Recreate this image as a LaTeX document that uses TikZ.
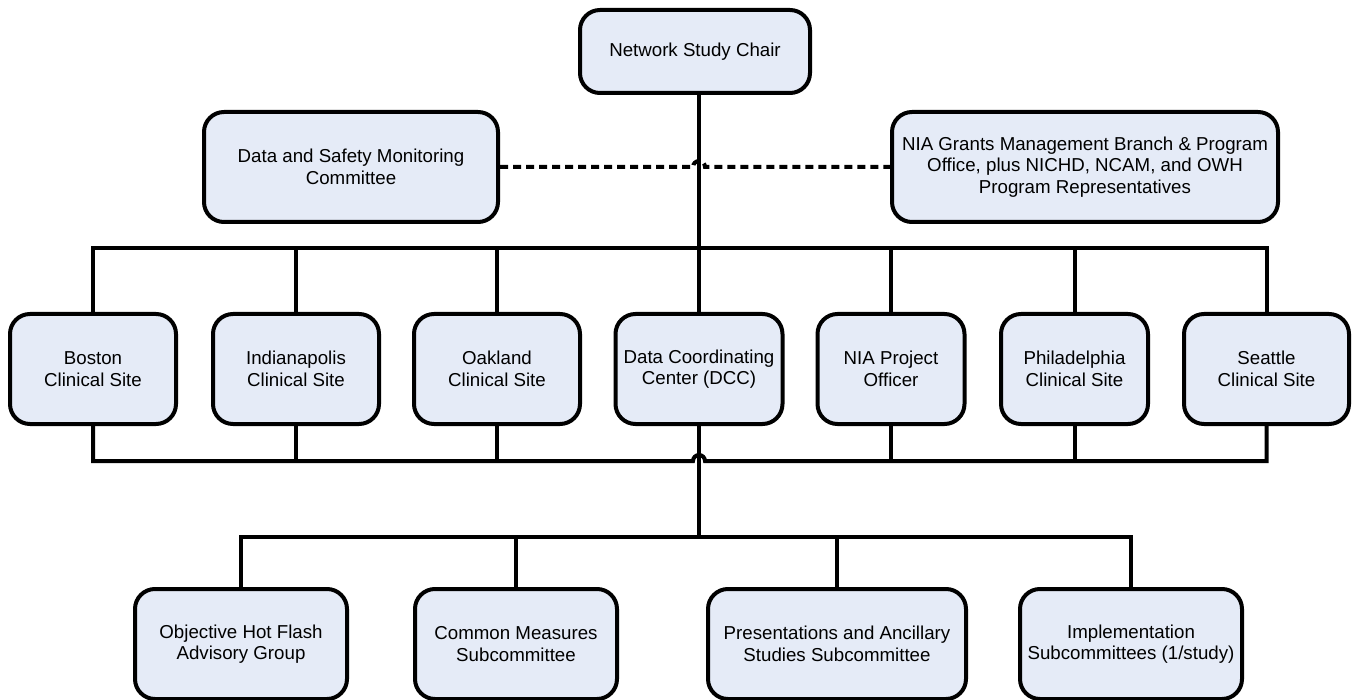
\documentclass[tikz,border=0pt]{standalone}
\usepackage{fontspec}
\setmainfont{Liberation Sans}
\usepackage{tikz}
\usetikzlibrary{calc}

\definecolor{boxfill}{RGB}{229,235,247}
\newcommand{\orgfont}{\fontsize{18.7}{21.5}\selectfont}

\tikzset{
    orgbox/.style={draw, line width=4pt, rounded corners=20pt, fill=boxfill,
        align=center, inner sep=0pt, minimum height=110pt, font=\orgfont},
    link/.style={line width=4pt},
    dashlink/.style={line width=4pt, dash pattern=on 8pt off 5pt}
}

\begin{document}
\begin{tikzpicture}[x=1pt,y=1pt]
        \useasboundingbox (0,0) rectangle (1360,-700);
        % top
        \node[orgbox, minimum width=230pt, minimum height=83pt] (chair) at (695,-51.5) {Network Study Chair};
        \node[orgbox, minimum width=294pt] (dsmc) at (351,-167) {Data and Safety Monitoring\\Committee};
        \node[orgbox, minimum width=386pt] (nia) at (1085,-167) {NIA Grants Management Branch \& Program\\Office, plus NICHD, NCAM, and OWH\\Program Representatives};
        % middle row
        \node[orgbox, minimum width=166pt] (boston) at (93,-369) {Boston\\Clinical Site};
        \node[orgbox, minimum width=166pt] (indy) at (296,-369) {Indianapolis\\Clinical Site};
        \node[orgbox, minimum width=166pt] (oakland) at (497,-369) {Oakland\\Clinical Site};
        \node[orgbox, minimum width=167pt] (dcc) at (699,-369) {Data Coordinating\\Center (DCC)};
        \node[orgbox, minimum width=147pt] (niapo) at (891,-369) {NIA Project\\Officer};
        \node[orgbox, minimum width=147pt] (phila) at (1074.5,-369) {Philadelphia\\Clinical Site};
        \node[orgbox, minimum width=165pt] (seattle) at (1266.5,-369) {Seattle\\Clinical Site};
        % bottom row
        \node[orgbox, minimum width=212pt] (ohf) at (241,-644) {Objective Hot Flash\\Advisory Group};
        \node[orgbox, minimum width=202pt] (cms) at (516,-644) {Common Measures\\Subcommittee};
        \node[orgbox, minimum width=258pt] (pas) at (837,-644) {Presentations and Ancillary\\Studies Subcommittee};
        \node[orgbox, minimum width=222pt] (impl) at (1131,-644) {Implementation\\Subcommittees (1/study)};

        \coordinate (topbus) at (0,-248);
        \coordinate (botbus) at (0,-461);
        \coordinate (lowbus) at (0,-537);

        % trunk and dashed link
        \draw[link] (chair.south -| dcc.north) -- (dcc.north);
        \draw[dashlink] (dsmc.east) -- ($(dsmc.east -| dcc.north)+(-6pt,0)$) arc (180:0:6pt) -- (nia.west);

        % site bus above
        \draw[link] (boston.north) -- (boston.north |- topbus) -- (seattle.north |- topbus) -- (seattle.north);
        \foreach \n in {indy,oakland,niapo,phila}
            \draw[link] (\n.north) -- (\n.north |- topbus);

        % site bus below
        \draw[link] (boston.south) -- (boston.south |- botbus) -- ($(dcc.south |- botbus)+(-6pt,0)$) arc (180:0:6pt) -- (seattle.south |- botbus) -- (seattle.south);
        \foreach \n in {indy,oakland,niapo,phila}
            \draw[link] (\n.south) -- (\n.south |- botbus);

        % committees
        \draw[link] (dcc.south) -- (dcc.south |- lowbus);
        \draw[link] (ohf.north) -- (ohf.north |- lowbus) -- (impl.north |- lowbus) -- (impl.north);
        \foreach \n in {cms,pas}
            \draw[link] (\n.north) -- (\n.north |- lowbus);
    \end{tikzpicture}
\end{document}
